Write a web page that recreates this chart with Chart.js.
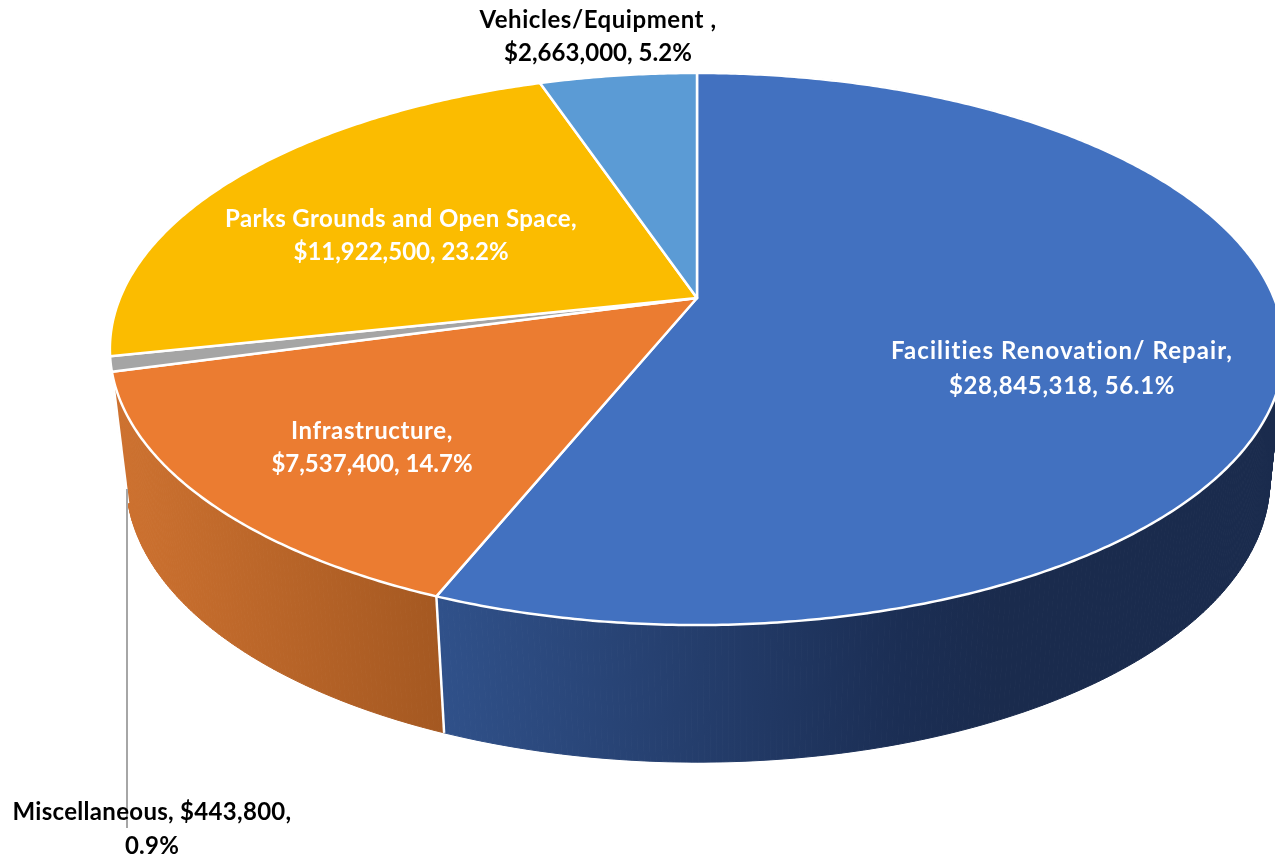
<!DOCTYPE html>
<html>
<head>
<meta charset="utf-8">
<title>Capital budget by category</title>
<script src="https://cdn.jsdelivr.net/npm/chart.js@4"></script>
<style>
    html, body { margin: 0; padding: 0; background: #ffffff; overflow: hidden; }
    canvas { display: block; }
</style>
</head>
<body>
<canvas id="budgetPie" width="1275" height="857"></canvas>
<script>
const categories = ["Facilities Renovation/ Repair", "Infrastructure", "Miscellaneous", "Parks Grounds and Open Space", "Vehicles/Equipment "];
const amounts = [28845318, 7537400, 443800, 11922500, 2663000];
const sliceColors = ["#4271C0", "#EB7C31", "#A5A5A5", "#FBBC00", "#5B9BD5"];

// Gradient stops for the visible wall of each slice, null where the wall is hidden
const wallColors = [
    [[440, "#30518A"], [900, "#1B2E54"], [1000, "#1A2B4D"]],
    [[115, "#CE7230"], [445, "#A45821"]],
    null,
    null,
    null
];

// Text anchor, line breaks and per-line tracking of the data labels
const labelLayout = [
    { x: 1062, y: 351, gap: 35, color: "#ffffff", breakAfter: "name", tracking: [1.1, 0.6] },
    { x: 372, y: 431, gap: 33, color: "#ffffff", breakAfter: "name", tracking: [0.6, 0] },
    { x: 152, y: 812, gap: 34, color: "#000000", breakAfter: "amount", tracking: [0.3, 0.2] },
    { x: 401, y: 219, gap: 33, color: "#ffffff", breakAfter: "name", tracking: [0.4, 0] },
    { x: 598, y: 20, gap: 33, color: "#000000", breakAfter: "name", tracking: [0.55, 0.05] }
];

// Tilted disc: the circle goes through a perspective divide so the near side looks bigger
const topRim = { x0: 697, y0: 298, a: 577, b: 266.6, p: -0.1848 };
const bottomRim = { x0: 698, y0: 428, a: 562, b: 272.4, p: -0.1848 };

function project(rim, angle) {
    const u = Math.cos(angle);
    const v = Math.sin(angle);
    const w = 1 + rim.p * v;
    return [rim.x0 + rim.a * u / w, rim.y0 + rim.b * v / w];
}

function rimPoints(rim, start, end) {
    const steps = Math.max(2, Math.ceil((end - start) / (Math.PI / 360)));
    const points = [];
    for (let i = 0; i <= steps; i++) {
        points.push(project(rim, start + (end - start) * i / steps));
    }
    return points;
}

function tracePath(ctx, points) {
    ctx.beginPath();
    points.forEach((p, i) => {
        if (i === 0) ctx.moveTo(p[0], p[1]);
        else ctx.lineTo(p[0], p[1]);
    });
    ctx.closePath();
}

function labelLines(i, total) {
    const money = "$" + amounts[i].toLocaleString("en-US");
    const pct = (amounts[i] / total * 100).toFixed(1) + "%";
    if (labelLayout[i].breakAfter === "amount") {
        return [categories[i] + ", " + money + ",", pct];
    }
    return [categories[i] + ",", money + ", " + pct];
}

function drawWall(ctx, arc, stops) {
    const x1 = stops[0][0];
    const x2 = stops[stops.length - 1][0];
    const grad = ctx.createLinearGradient(x1, 0, x2, 0);
    stops.forEach((s) => grad.addColorStop((s[0] - x1) / (x2 - x1), s[1]));
    const upper = rimPoints(topRim, arc.startAngle, arc.endAngle);
    const lower = rimPoints(bottomRim, arc.startAngle, arc.endAngle);

    // one quad per step, the two rims cross near the silhouette so a single outline leaves gaps
    ctx.fillStyle = grad;
    ctx.strokeStyle = grad;
    ctx.lineWidth = 1;
    for (let i = 0; i < upper.length - 1; i++) {
        tracePath(ctx, [upper[i], upper[i + 1], lower[i + 1], lower[i]]);
        ctx.fill();
        ctx.stroke();
    }
}

function drawSeam(ctx, angle) {
    const a = project(topRim, angle);
    const b = project(bottomRim, angle);
    ctx.beginPath();
    ctx.moveTo(a[0], a[1]);
    ctx.lineTo(b[0], b[1]);
    ctx.strokeStyle = "#ffffff";
    ctx.lineWidth = 2.5;
    ctx.stroke();
}

const tiltedPie = {
    id: "tiltedPie",
    beforeDatasetsDraw(chart) {
        const ctx = chart.ctx;
        const arcs = chart.getDatasetMeta(0).data;
        const total = amounts.reduce((a, b) => a + b, 0);

        ctx.save();
        ctx.lineJoin = "round";

        // walls first, the top surface covers whatever sits behind it
        arcs.forEach((arc, i) => {
            if (wallColors[i]) drawWall(ctx, arc, wallColors[i]);
        });
        arcs.forEach((arc, i) => {
            if (wallColors[i]) drawSeam(ctx, arc.endAngle);
        });

        ctx.strokeStyle = "#ffffff";
        ctx.lineWidth = 2.5;
        arcs.forEach((arc, i) => {
            const rim = rimPoints(topRim, arc.startAngle, arc.endAngle);
            tracePath(ctx, [[topRim.x0, topRim.y0]].concat(rim));
            ctx.fillStyle = sliceColors[i];
            ctx.fill();
            ctx.stroke();
        });

        // leader line of the small slice
        ctx.beginPath();
        ctx.moveTo(127, 489);
        ctx.lineTo(127, 828);
        ctx.strokeStyle = "#A6A6A6";
        ctx.lineWidth = 2;
        ctx.stroke();

        ctx.font = "bold 24px Lato";
        ctx.textAlign = "center";
        ctx.textBaseline = "middle";
        labelLayout.forEach((layout, i) => {
            ctx.fillStyle = layout.color;
            labelLines(i, total).forEach((line, n) => {
                ctx.letterSpacing = layout.tracking[n] + "px";
                ctx.fillText(line, layout.x, layout.y + n * layout.gap);
            });
        });
        ctx.restore();

        // the default round arcs are replaced by the tilted ones above
        return false;
    }
};

new Chart(document.getElementById("budgetPie").getContext("2d"), {
    type: "pie",
    data: {
        labels: categories,
        datasets: [{ data: amounts, backgroundColor: sliceColors }]
    },
    options: {
        responsive: false,
        animation: false,
        plugins: {
            legend: { display: false },
            tooltip: { enabled: false }
        }
    },
    plugins: [tiltedPie]
});
</script>
</body>
</html>
